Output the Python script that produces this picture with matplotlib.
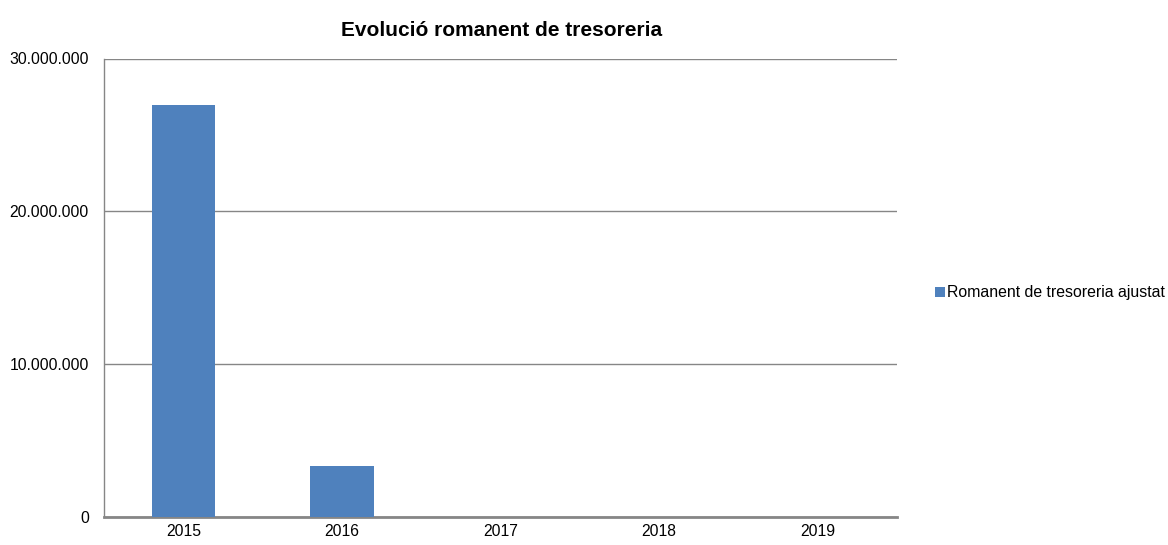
import matplotlib
matplotlib.use("Agg")
import matplotlib.pyplot as plt
from matplotlib.ticker import FuncFormatter

plt.rcParams['font.family'] = ['Liberation Sans', 'DejaVu Sans']

years = ["2015", "2016", "2017", "2018", "2019"]
romanent = [26960000, 3340000, 0, 0, 0]
yticks = [0, 10000000, 20000000, 30000000]

fig = plt.figure(figsize=(11.68, 5.45), dpi=100)
ax = fig.add_axes([104 / 1168, 1 - 517 / 545, (897 - 104) / 1168, (517 - 58.5) / 545])

x = list(range(len(years)))
ax.bar(x, romanent, width=0.4, color="#4f81bd", label="Romanent de tresoreria ajustat", zorder=3)

ax.set_xlim(-0.5, len(years) - 0.5)
ax.set_ylim(0, 30000000)
ax.set_yticks(yticks)
ax.yaxis.set_major_formatter(FuncFormatter(lambda v, p: f"{int(v):,}".replace(",", ".")))
ax.set_xticks(x)
ax.set_xticklabels(years)
ax.tick_params(axis="both", length=0, labelsize=11.3, colors="black")
ax.tick_params(axis="y", pad=10.8)
ax.tick_params(axis="x", pad=5)

ax.grid(axis="y", color="#868686", linewidth=1.0, zorder=0)
for s in ["top", "right"]:
    ax.spines[s].set_visible(False)
ax.spines["left"].set_color("#868686")
ax.spines["left"].set_linewidth(1.0)
ax.spines["bottom"].set_color("#868686")
ax.spines["bottom"].set_linewidth(2.0)

fig.text(502 / 1168, 1 - 30 / 545, "Evolució romanent de tresoreria",
         ha="center", va="center", fontsize=15, fontweight="bold")

fig.legend(loc="center left", bbox_to_anchor=(927 / 1168, 1 - 293 / 545), frameon=False,
           fontsize=11.4, handlelength=0.62, handleheight=0.62, handletextpad=0.12, borderpad=0)

fig.savefig("out.png", dpi=100)
